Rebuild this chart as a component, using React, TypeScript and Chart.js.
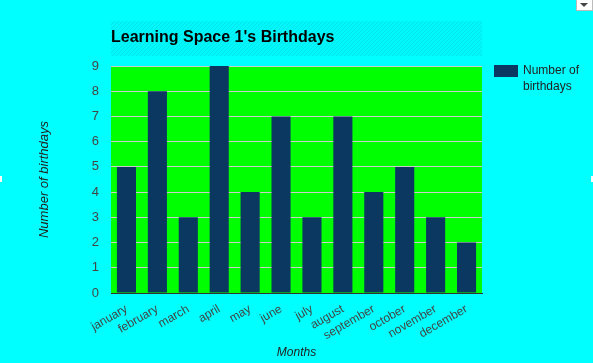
import React, { useEffect, useRef } from "react";
import { Chart, registerables } from "chart.js";

Chart.register(...registerables);

const months = ["january", "february", "march", "april", "may", "june", "july", "august", "september", "october", "november", "december"];
const birthdays = [5, 8, 3, 9, 4, 7, 3, 7, 4, 5, 3, 2];
const seriesName = "Number of birthdays";
const legendLines = ["Number of", "birthdays"];
const chartTitle = "Learning Space 1's Birthdays";
const xTitle = "Months";
const yTitle = "Number of birthdays";

const BAR = "#0b3861";
const FONT = "Arial, 'Liberation Sans', sans-serif";

const decorPlugin = {
  id: "decor",
  beforeDraw(chart: any) {
    const { ctx, chartArea, width, height } = chart;
    ctx.save();
    ctx.fillStyle = "#00ffff";
    ctx.fillRect(0, 0, width, height);
    // hatched title band
    const pc = document.createElement("canvas");
    pc.width = 4; pc.height = 4;
    const p = pc.getContext("2d")!;
    p.fillStyle = "#00f8fb";
    p.fillRect(0, 0, 4, 4);
    p.strokeStyle = "#00e6f0";
    p.lineWidth = 1;
    p.beginPath();
    p.moveTo(0, 4); p.lineTo(4, 0);
    p.stroke();
    ctx.fillStyle = ctx.createPattern(pc, "repeat");
    ctx.fillRect(chartArea.left, 21, chartArea.right - chartArea.left, 35);
    // title
    ctx.fillStyle = "#000000";
    ctx.font = "bold 16px " + FONT;
    ctx.textAlign = "left";
    ctx.textBaseline = "middle";
    ctx.fillText(chartTitle, chartArea.left, 38);
    // plot background
    ctx.fillStyle = "#00ff00";
    ctx.fillRect(chartArea.left, chartArea.top, chartArea.right - chartArea.left, chartArea.bottom - chartArea.top);
    // legend
    const lx = chartArea.right + 12;
    ctx.fillStyle = BAR;
    ctx.fillRect(lx, chartArea.top - 1, 24, 12);
    ctx.fillStyle = "#222222";
    ctx.font = "12px " + FONT;
    legendLines.forEach((t, i) => ctx.fillText(t, lx + 29, chartArea.top + 5 + i * 16));
    // corner menu button
    ctx.fillStyle = "#ffffff";
    ctx.fillRect(576, 0, 16, 11);
    ctx.strokeStyle = "#bbbbbb";
    ctx.strokeRect(576.5, -0.5, 16, 11);
    ctx.fillStyle = "#444444";
    ctx.beginPath();
    ctx.moveTo(580, 3); ctx.lineTo(588, 3); ctx.lineTo(584, 7); ctx.closePath();
    ctx.fill();
    // resize handles
    ctx.fillStyle = "#ffffff";
    ctx.fillRect(0, 176, 2, 6);
    ctx.fillRect(591, 176, 2, 6);
    ctx.restore();
  },
};

export default function App() {
  const ref = useRef<HTMLCanvasElement>(null);
  useEffect(() => {
    document.body.style.margin = "0";
    document.body.style.background = "#00ffff";
    const chart = new Chart(ref.current!, {
      type: "bar",
      data: {
        labels: months,
        datasets: [{ label: seriesName, data: birthdays, backgroundColor: BAR, barPercentage: 0.618, categoryPercentage: 1 }],
      },
      options: {
        responsive: false,
        animation: false,
        devicePixelRatio: 1,
        layout: { padding: { left: 37, right: 111, top: 66, bottom: 3 } },
        plugins: { legend: { display: false }, title: { display: false }, tooltip: { enabled: false } },
        scales: {
          x: {
            afterFit: (s: any) => { s.height = 67; },
            grid: { display: false, drawTicks: false },
            border: { color: "#333333" },
            ticks: { color: "#444444", font: { family: FONT, size: 12 }, minRotation: 30, maxRotation: 30, padding: 9, autoSkip: false },
            title: { display: true, text: xTitle, color: "#222222", font: { family: FONT, size: 12, style: "italic" }, padding: 0 },
          },
          y: {
            min: 0, max: 9,
            afterFit: (s: any) => { s.width = 74; },
            grid: { drawTicks: false, color: (c: any) => (c.tick && c.tick.value === 0 ? "#333333" : "#cccccc") },
            border: { display: false },
            ticks: { stepSize: 1, color: "#444444", font: { family: FONT, size: 13 }, padding: 12 },
            title: { display: true, text: yTitle, color: "#222222", font: { family: FONT, size: 13, style: "italic" }, padding: 0 },
          },
        },
      },
      plugins: [decorPlugin],
    });
    return () => chart.destroy();
  }, []);
  return (
    <div style={{ width: 593, height: 363 }}>
      <canvas ref={ref} width={593} height={363} />
    </div>
  );
}
